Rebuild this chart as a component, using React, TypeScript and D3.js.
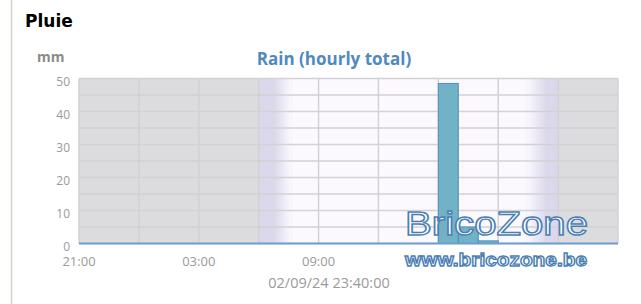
import React from "react";
import * as d3 from "d3";

const sectionTitle = "Pluie";
const chartTitle = "Rain (hourly total)";
const unitLabel = "mm";
const timestampLabel = "02/09/24 23:40:00";
const watermarkTitle = "BricoZone";
const watermarkUrl = "www.bricozone.be";

const startTime = "2024-09-01T21:00:00";
const endTime = "2024-09-03T00:00:00";

// hourly rain totals (mm), one per hour starting at 21:00
const hourlyRain = [
  0, 0, 0, 0, 0, 0, 0, 0, 0, 0, 0, 0, 0, 0, 0, 0, 0, 0,
  48.5, 5.0, 0.8,
  0, 0, 0, 0, 0, 0,
];

const yTickValues = [0, 10, 20, 30, 40, 50];
const yGridValues = [0, 5, 10, 15, 20, 25, 30, 35, 40, 45, 50];
const xTickLabels = ["21:00", "03:00", "09:00"];
const xTickTimes = ["2024-09-01T21:00:00", "2024-09-02T03:00:00", "2024-09-02T09:00:00"];

// day / night shading
const dawnBandStart = "2024-09-02T06:00:00";
const sunriseTime = "2024-09-02T06:48:00";
const fullDayTime = "2024-09-02T07:38:00";
const fadeStartTime = "2024-09-02T19:25:00";
const sunsetTime = "2024-09-02T20:25:00";
const duskBandEnd = "2024-09-02T21:00:00";

const W = 641;
const H = 304;
const plotLeft = 79;
const plotRight = 618;
const plotTop = 78.5;
const plotBottom = 243.5;

const nightColor = "#dcdcde";
const twilightColor = "#dcd8ec";
const dayColor = "#fbf9fe";
const gridColor = "#d2d2d4";

export default function App() {
  const parse = (s: string) => new Date(s);
  const x = d3.scaleTime().domain([parse(startTime), parse(endTime)]).range([plotLeft, plotRight]);
  const y = d3.scaleLinear().domain([0, 50]).range([plotBottom, plotTop]);

  const start = parse(startTime);
  const bars = hourlyRain.map((v, i) => {
    const t0 = d3.timeHour.offset(start, i);
    const t1 = d3.timeHour.offset(start, i + 1);
    return { v, t0, t1 };
  });

  const gridTimes = d3.timeHour.every(3)!.range(parse(startTime), d3.timeMinute.offset(parse(endTime), 1));

  const xa = x(parse(dawnBandStart));
  const xb = x(parse(sunriseTime));
  const xc = x(parse(fullDayTime));
  const xd = x(parse(fadeStartTime));
  const xe = x(parse(sunsetTime));
  const xf = x(parse(duskBandEnd));

  return (
    <svg width={W} height={H} style={{ position: "absolute", left: 0, top: 0, background: "#fff" }}>
      <defs>
        <linearGradient id="dawn" x1="0" x2="1" y1="0" y2="0">
          <stop offset="0" stopColor={twilightColor} />
          <stop offset="1" stopColor={dayColor} />
        </linearGradient>
        <linearGradient id="dusk" x1="0" x2="1" y1="0" y2="0">
          <stop offset="0" stopColor={dayColor} />
          <stop offset="1" stopColor={twilightColor} />
        </linearGradient>
      </defs>

      <line x1={11.5} x2={11.5} y1={0} y2={H} stroke="#d6d0c6" strokeWidth={1.5} />
      <text x={25} y={27} fontFamily="DejaVu Sans" fontWeight="bold" fontSize={17} fill="#000">
        {sectionTitle}
      </text>

      <text x={37} y={62} fontFamily="Open Sans" fontWeight="bold" fontSize={14} fill="#8a8a8a">
        {unitLabel}
      </text>
      <text x={334} y={65} textAnchor="middle" fontFamily="Open Sans" fontWeight="bold" fontSize={17} fill="#4f8abf">
        {chartTitle}
      </text>

      {/* background shading */}
      <rect x={plotLeft} y={plotTop} width={plotRight - plotLeft} height={plotBottom - plotTop} fill={nightColor} />
      <rect x={xa} y={plotTop} width={xb - xa} height={plotBottom - plotTop} fill={twilightColor} />
      <rect x={xb} y={plotTop} width={xc - xb} height={plotBottom - plotTop} fill="url(#dawn)" />
      <rect x={xc} y={plotTop} width={xd - xc} height={plotBottom - plotTop} fill={dayColor} />
      <rect x={xd} y={plotTop} width={xe - xd} height={plotBottom - plotTop} fill="url(#dusk)" />
      <rect x={xe} y={plotTop} width={xf - xe} height={plotBottom - plotTop} fill={twilightColor} />

      {/* grid */}
      {yGridValues.map((v) => (
        <line key={"gy" + v} x1={plotLeft} x2={plotRight} y1={y(v)} y2={y(v)} stroke={gridColor} strokeWidth={1.5} />
      ))}
      {gridTimes.map((t, i) => (
        <line key={"gx" + i} x1={x(t)} x2={x(t)} y1={plotTop} y2={plotBottom} stroke={gridColor} strokeWidth={1.5} />
      ))}

      {/* bars */}
      {bars
        .filter((b) => b.v > 0)
        .map((b, i) => (
          <rect
            key={"b" + i}
            x={x(b.t0)}
            y={y(b.v)}
            width={x(b.t1) - x(b.t0)}
            height={y(0) - y(b.v)}
            fill="#72b2c6"
            stroke="#4e8fc2"
            strokeWidth={1}
          />
        ))}

      <line x1={plotLeft} x2={plotRight} y1={plotBottom} y2={plotBottom} stroke="#6a9fd0" strokeWidth={2} />

      {/* y labels */}
      {yTickValues.map((v) => (
        <text key={"yl" + v} x={70} y={y(v) + 7.5} textAnchor="end" fontFamily="Open Sans" fontSize={12} fill="#9a9a9a">
          {v}
        </text>
      ))}

      {/* x labels */}
      {xTickTimes.map((t, i) => (
        <text key={"xl" + i} x={x(parse(t))} y={265.5} textAnchor="middle" fontFamily="Open Sans" fontSize={13} fill="#9a9a9a">
          {xTickLabels[i]}
        </text>
      ))}

      <text x={329} y={288} textAnchor="middle" fontFamily="Open Sans" fontSize={14.5} fill="#9a9a9a">
        {timestampLabel}
      </text>

      {/* watermark */}
      <text
        x={405}
        y={235}
        fontFamily="Liberation Sans"
        fontSize={33}
        textLength={183}
        lengthAdjust="spacingAndGlyphs"
        fill="#ffffff"
        stroke="#4b7fb3"
        strokeWidth={1.4}
      >
        {watermarkTitle}
      </text>
      <text
        x={405}
        y={266}
        fontFamily="Liberation Sans"
        fontWeight="bold"
        fontSize={18}
        textLength={182}
        lengthAdjust="spacingAndGlyphs"
        fill="#ffffff"
        stroke="#4b7fb3"
        strokeWidth={1.3}
      >
        {watermarkUrl}
      </text>
    </svg>
  );
}
